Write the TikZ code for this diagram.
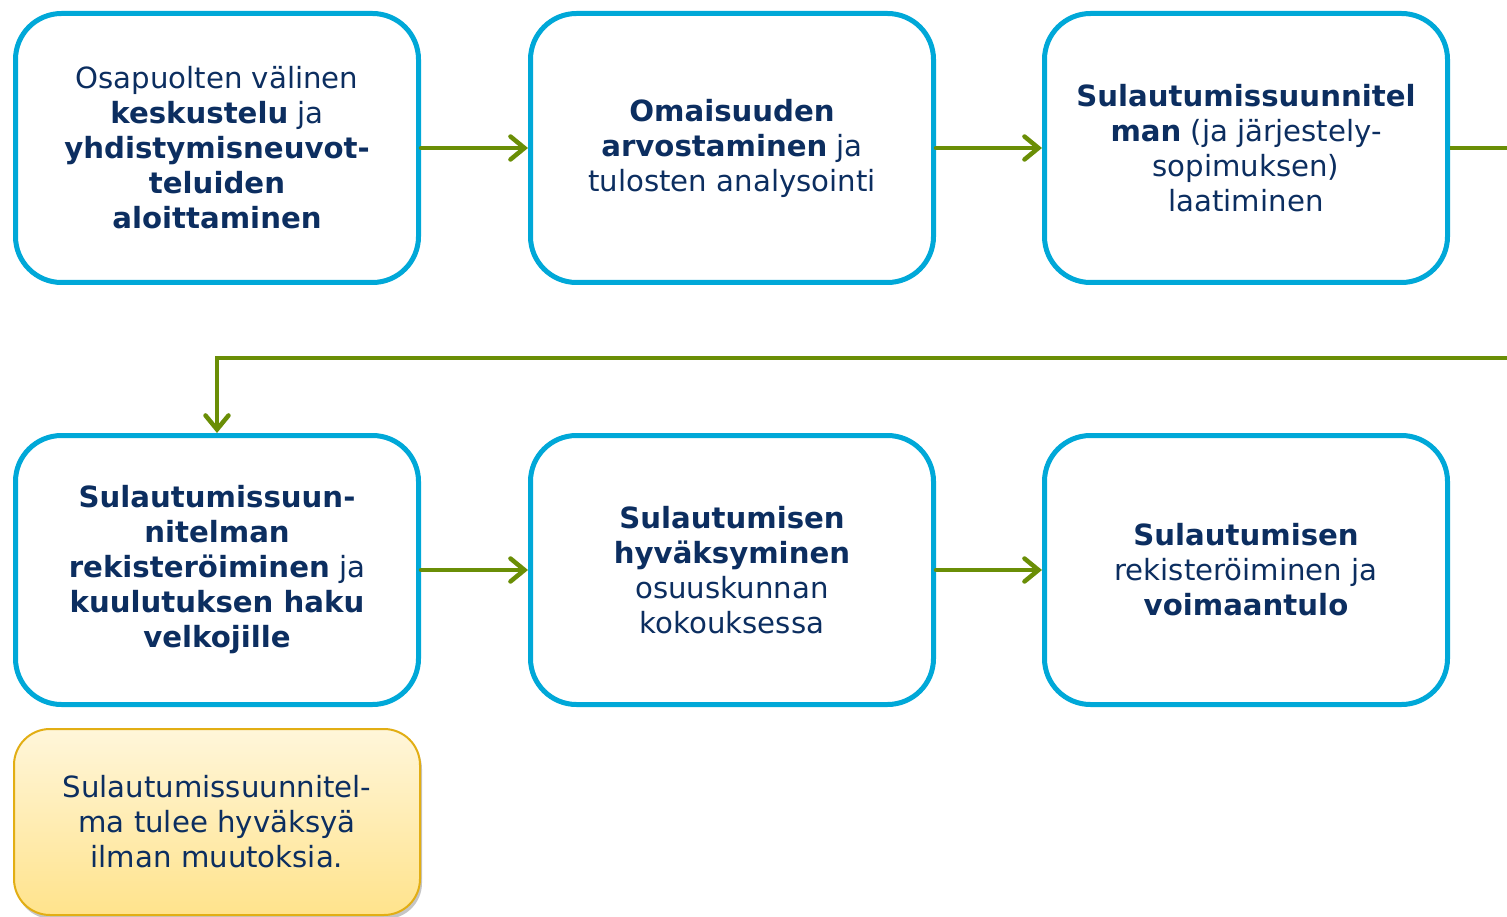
\documentclass[tikz,border=0pt]{standalone}
\usepackage{fontspec}
\setmainfont{DejaVu Sans}
\usetikzlibrary{arrows.meta,shadows}
\definecolor{boxblue}{HTML}{00A8D8}
\definecolor{navy}{HTML}{0C2E60}
\definecolor{arrgreen}{HTML}{6A8E06}
\definecolor{notetop}{HTML}{FFF6DA}
\definecolor{notebot}{HTML}{FFE38C}
\definecolor{noteedge}{HTML}{E2AE14}
\tikzset{
  stepbox/.style={draw=boxblue, line width=5pt, fill=white, rounded corners=46pt,
    minimum width=403pt, minimum height=269pt, align=center, text=navy,
    font=\fontsize{29.2pt}{35pt}\selectfont, inner sep=0pt},
  notebox/.style={draw=noteedge, line width=2pt, rounded corners=36pt,
    top color=notetop, bottom color=notebot,
    drop shadow={shadow xshift=2pt, shadow yshift=-4pt, fill=black!45, opacity=0.5},
    minimum width=406pt, minimum height=186pt, align=center, text=navy,
    font=\fontsize{29.2pt}{35pt}\selectfont, inner sep=0pt},
  conn/.style={draw=arrgreen, line width=4.5pt, line cap=round,
    -{Straight Barb[length=14pt,width=23pt,line cap=round]}},
  connline/.style={draw=arrgreen, line width=4.5pt}
}
\begin{document}
\begin{tikzpicture}[x=1pt,y=-1pt]
\useasboundingbox (0,0) rectangle (1507,917);
\node[stepbox] (b1) at (217,148) {Osapuolten välinen\\\textbf{keskustelu} ja\\\textbf{yhdistymisneuvot-}\\\textbf{teluiden}\\\textbf{aloittaminen}};
\node[stepbox] (b2) at (732,148) {\textbf{Omaisuuden}\\\textbf{arvostaminen} ja\\tulosten analysointi};
\node[stepbox] (b3) at (1246,148) {\textbf{Sulautumissuunnitel}\\\textbf{man} (ja järjestely-\\sopimuksen)\\laatiminen};
\node[stepbox] (b4) at (217,570) {\textbf{Sulautumissuun-}\\\textbf{nitelman}\\\textbf{rekisteröiminen} ja\\\textbf{kuulutuksen haku}\\\textbf{velkojille}};
\node[stepbox] (b5) at (732,570) {\textbf{Sulautumisen}\\\textbf{hyväksyminen}\\osuuskunnan\\kokouksessa};
\node[stepbox] (b6) at (1246,570) {\textbf{Sulautumisen}\\rekisteröiminen ja\\\textbf{voimaantulo}};
\node[notebox] (n1) at (217,822) {Sulautumissuunnitel-\\ma tulee hyväksyä\\ilman muutoksia.};
\coordinate (r1) at (1507,148);
\coordinate (r2) at (1507,358);
\draw[conn] (b1.east) -- (b2.west);
\draw[conn] (b2.east) -- (b3.west);
\draw[connline] (b3.east) -- (r1);
\draw[conn] (r2) -| (b4.north);
\draw[conn] (b4.east) -- (b5.west);
\draw[conn] (b5.east) -- (b6.west);
\end{tikzpicture}
\end{document}
